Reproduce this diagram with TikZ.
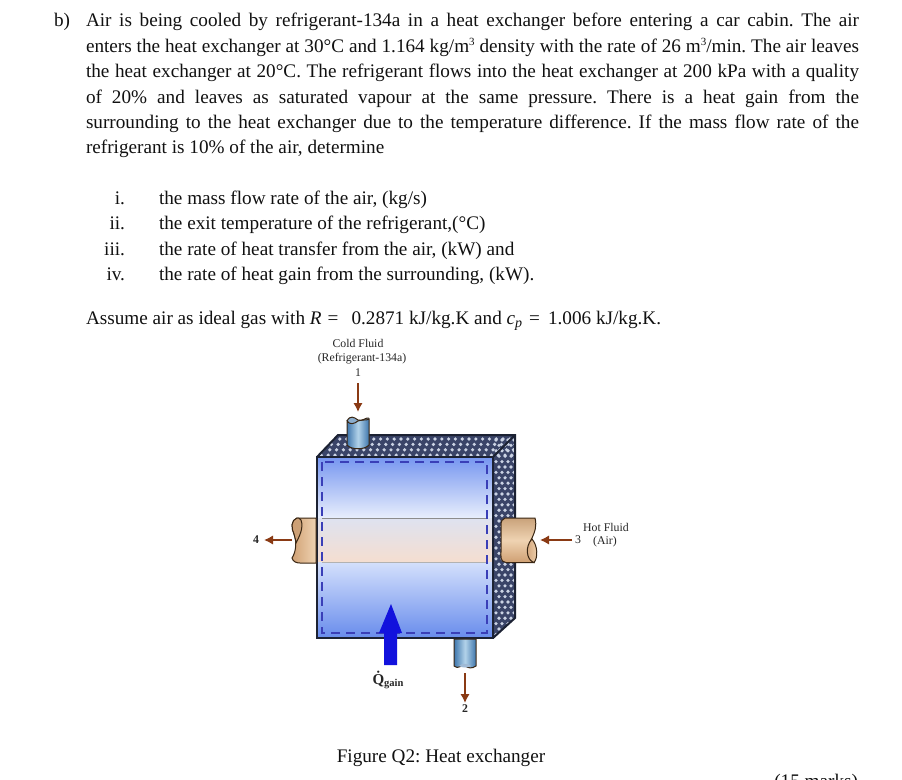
\documentclass[tikz,border=0pt]{standalone}
\usepackage{fontspec}
\setmainfont{Liberation Serif}
\usetikzlibrary{arrows.meta}
\definecolor{ink}{HTML}{111111}
\definecolor{flow}{HTML}{8A3A14}
\definecolor{insul}{HTML}{3A4468}
\definecolor{speck}{HTML}{CBD3E4}
\definecolor{frame}{HTML}{1C2233}
\definecolor{dashc}{HTML}{3A3FB8}
\definecolor{tanA}{HTML}{C9A27A}
\definecolor{tanB}{HTML}{EFD3B2}
\definecolor{tanC}{HTML}{CF9F72}
\definecolor{pipeA}{HTML}{3E76AC}
\definecolor{pipeB}{HTML}{B3D3EA}
\definecolor{gainc}{HTML}{1212DD}
\tikzset{
  body/.style={anchor=base west,inner sep=0pt,outer sep=0pt,text=ink,font=\fontsize{19.2}{23}\selectfont},
  numeral/.style={anchor=base east,inner sep=0pt,outer sep=0pt,text=ink,font=\fontsize{19.2}{23}\selectfont},
  small/.style={inner sep=0pt,outer sep=0pt,text=black!85,font=\fontsize{11.8}{13}\selectfont},
  flowarrow/.style={draw=flow,line width=1.8pt,-{Latex[length=9pt,width=9.5pt]}},
  outline/.style={draw=frame,line width=2pt},
  pipeedge/.style={draw=black!70!brown,line width=1pt}
}
\newcommand{\jl}[1]{\hbox to 773pt{#1}}
\frenchspacing
\begin{document}
\begin{tikzpicture}[x=1pt,y=-1pt]
\useasboundingbox (0,0) rectangle (902,779);
\fill[white] (0,0) rectangle (902,779);
% question text
\node[body] (lb) at (54,26) {b)};
\node[body] (l1) at (86,26) {\jl{Air is being cooled by refrigerant-134a in a heat exchanger before entering a car cabin. The air}};
\node[body] (l2) at (86,52) {\jl{enters the heat exchanger at 30°C and 1.164 kg/m\raisebox{7pt}{\fontsize{11}{12}\selectfont 3} density with the rate of 26 m\raisebox{7pt}{\fontsize{11}{12}\selectfont 3}/min. The air leaves}};
\node[body] (l3) at (86,77) {\jl{the heat exchanger at 20°C. The refrigerant flows into the heat exchanger at 200 kPa with a quality}};
\node[body] (l4) at (86,103) {\jl{of 20\% and leaves as saturated vapour at the same pressure. There is a heat gain from the}};
\node[body] (l5) at (86,128) {\jl{surrounding to the heat exchanger due to the temperature difference. If the mass flow rate of the}};
\node[body] (l6) at (86,153) {refrigerant is 10\% of the air, determine};
\node[numeral] (ni) at (125,204) {i.};
\node[body] (ti) at (159,204) {the mass flow rate of the air, (kg/s)};
\node[numeral] (nii) at (125,229) {ii.};
\node[body] (tii) at (159,229) {the exit temperature of the refrigerant,(°C)};
\node[numeral] (niii) at (125,255) {iii.};
\node[body] (tiii) at (159,255) {the rate of heat transfer from the air, (kW) and};
\node[numeral] (niv) at (125,280) {iv.};
\node[body] (tiv) at (159,280) {the rate of heat gain from the surrounding, (kW).};
\node[body] (assume) at (86,324) {Assume air as ideal gas with \textit{R}\hspace{6pt}=\hspace{13pt}0.2871 kJ/kg.K and \textit{c}\raisebox{-3.5pt}{\fontsize{14}{15}\selectfont\textit{p}}\hspace{7pt}=\hspace{8pt}1.006 kJ/kg.K.};
% insulation
\begin{scope}
\clip (317,457) -- (338,435) -- (515,435) -- (515,618) -- (493,638) -- cycle;
\fill[insul] (317,457) -- (338,435) -- (515,435) -- (515,618) -- (493,638) -- cycle;
\foreach \r in {0,...,3}{
  \foreach \c in {0,...,29}{
    \pgfmathsetmacro{\dx}{318+\c*6.8+mod(\r,2)*3.4+(3-\r)*5}
    \pgfmathsetmacro{\dy}{439+\r*5.4}
    \fill[speck] (\dx,\dy) circle[radius=1.8pt];
  }
}
\foreach \r in {0,...,36}{
  \foreach \c in {0,...,3}{
    \pgfmathsetmacro{\dx}{496+\c*6+mod(\r,2)*3}
    \pgfmathsetmacro{\dy}{440+\r*5.4}
    \fill[speck] (\dx,\dy) circle[radius=1.8pt];
  }
}
\end{scope}
\draw[outline] (317,457) -- (338,435) -- (515,435) -- (515,618) -- (493,638);
\draw[outline] (493,457) -- (515,435);
% front face
\shade[top color={rgb,255:red,118;green,150;blue,240},bottom color={rgb,255:red,232;green,238;blue,252}] (317,457) rectangle (493,518);
\shade[top color={rgb,255:red,222;green,226;blue,240},bottom color={rgb,255:red,245;green,222;blue,208}] (317,518) rectangle (493,562);
\shade[top color={rgb,255:red,212;green,224;blue,252},bottom color={rgb,255:red,104;green,140;blue,236}] (317,562) rectangle (493,638);
\draw[black!45,line width=.7pt] (322,518) -- (487,518);
\draw[black!30,line width=.7pt] (322,562) -- (487,562);
\draw[dashc,line width=1.1pt,dash pattern=on 9pt off 6pt] (322,462) rectangle (487,633);
\draw[outline] (317,457) rectangle (493,638);
% top pipe
\path[fill=pipeA!60] (347,421) .. controls (350,415) and (354,417) .. (358,420) .. controls (362,422) and (366,417) .. (369,418) -- (369,425) -- (347,425) -- cycle;
\shade[left color=pipeA,right color=pipeA,middle color=pipeB,pipeedge]
 (347,421) .. controls (350,425) and (354,424) .. (358,421) .. controls (362,419) and (366,421) .. (369,419)
 -- (369,445) .. controls (365,450) and (351,450) .. (347,445) -- cycle;
\draw[pipeedge] (347,421) .. controls (350,415) and (354,417) .. (358,420) .. controls (362,422) and (366,417) .. (369,418);
% bottom pipe
\shade[left color=pipeA,right color=pipeA,middle color=pipeB,pipeedge]
 (454,639) -- (476,639) -- (476,666) .. controls (472,669) and (468,668) .. (465,666) .. controls (462,664) and (458,670) .. (454,666) -- cycle;
\fill[pipeA!50!white] (459,666) .. controls (462,663) and (468,663) .. (471,666) .. controls (468,668) and (462,668) .. (459,666) -- cycle;
% left pipe
\shade[left color=tanC,right color=tanB,pipeedge]
 (316,518) -- (297,518) .. controls (291,520) and (291,528) .. (294,534) .. controls (297,542) and (296,552) .. (292,558)
 .. controls (293,562) and (297,563) .. (300,563) -- (316,563) -- cycle;
\shade[left color=tanC,right color=tanA,pipeedge] (297,518) .. controls (291,520) and (291,528) .. (294,534) .. controls (295,538) and (296,541) .. (296,543) .. controls (299,537) and (304,528) .. (301,520) .. controls (300,518) and (298,518) .. (297,518) -- cycle;
% right pipe
\shade[top color=tanA,bottom color=tanC,middle color=tanB,pipeedge]
 (505,518) -- (535,518) .. controls (537,526) and (535,532) .. (531,540) .. controls (528,546) and (530,558) .. (534,562.5)
 -- (506,562.5) .. controls (500,562) and (501,556) .. (501,552) -- (501,526) .. controls (501,521) and (502,519) .. (505,518) -- cycle;
\shade[left color=tanC,right color=tanB,pipeedge] (534,562.5) .. controls (526,560) and (525,546) .. (532,539) .. controls (538,546) and (538,558) .. (534,562.5) -- cycle;
% heat gain arrow
\fill[gainc] (384,665) -- (397,665) -- (397,633) -- (402,633) -- (391,604) -- (379,633) -- (384,633) -- cycle;
% flow arrows
\coordinate (a1s) at (358,383); \coordinate (a1e) at (358,412);
\coordinate (a2s) at (465,673); \coordinate (a2e) at (465,703);
\coordinate (a3s) at (572,540); \coordinate (a3e) at (540,540);
\coordinate (a4s) at (292,540); \coordinate (a4e) at (264,540);
\draw[flowarrow] (a1s) -- (a1e);
\draw[flowarrow] (a2s) -- (a2e);
\draw[flowarrow] (a3s) -- (a3e);
\draw[flowarrow] (a4s) -- (a4e);
% labels
\node[small] (cold) at (358,343) {Cold Fluid};
\node[small] (refr) at (362,359) {(Refrigerant-134a)};
\node[small] (p1) at (358,373) {1};
\node[small] (p4) at (256,540) {\textbf{4}};
\node[small] (p3) at (578,540) {3};
\node[small] (hot) at (606,527) {Hot Fluid};
\node[small] (air) at (605,542) {(Air)};
\node[small] (qg) at (388,680) {\textbf{\fontsize{15}{16}\selectfont\.{Q}\raisebox{-2pt}{\fontsize{10.5}{11}\selectfont gain}}};
\node[small] (p2) at (465,709) {\textbf{2}};
\node[body,anchor=base] (cap) at (441,762) {Figure Q2: Heat exchanger};
\node[body,anchor=base east] (marks) at (858,787) {(15 marks)};
\end{tikzpicture}
\end{document}
